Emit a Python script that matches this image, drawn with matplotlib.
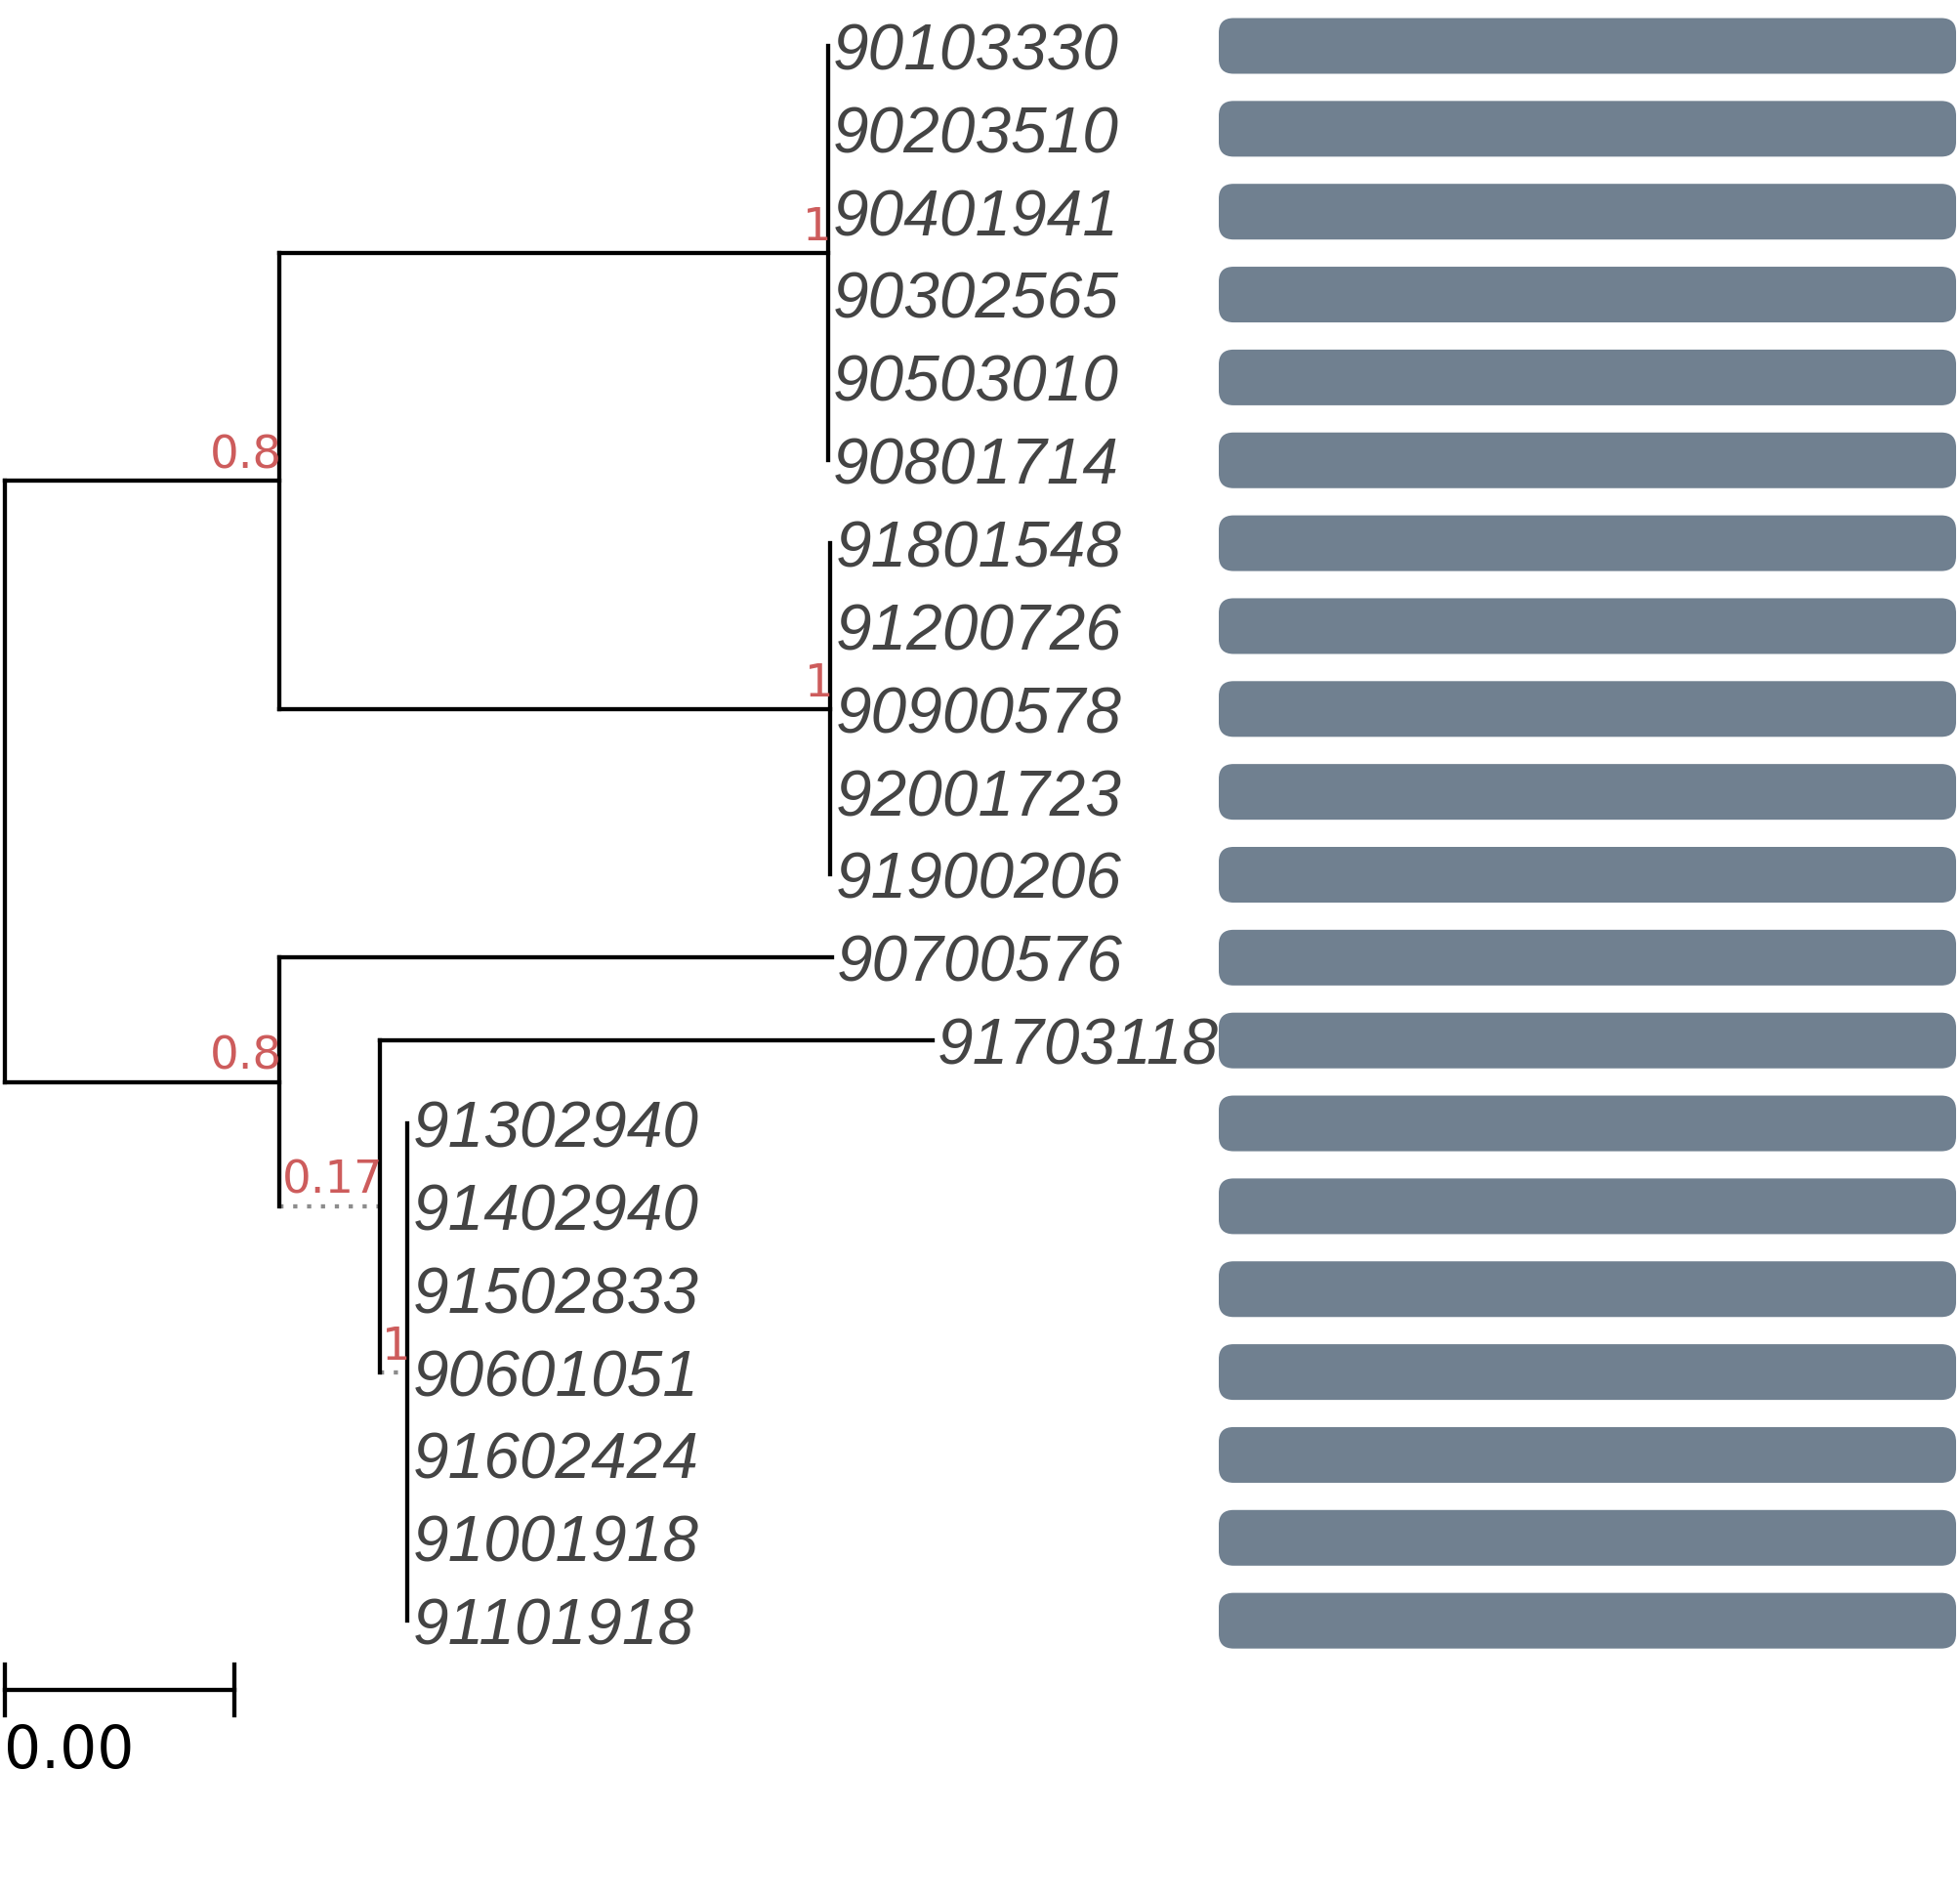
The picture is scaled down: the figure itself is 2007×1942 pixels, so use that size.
import matplotlib
matplotlib.use("Agg")
import matplotlib.pyplot as plt
from matplotlib.patches import FancyBboxPatch
import numpy as np

plt.rcParams['font.family'] = ['DejaVu Sans']

# tip order, top to bottom
tip_labels = ["90103330", "90203510", "90401941", "90302565", "90503010", "90801714",
              "91801548", "91200726", "90900578", "92001723", "91900206",
              "90700576", "91703118",
              "91302940", "91402940", "91502833", "90601051", "91602424", "91001918", "91101918"]

# internal edges (parent -> child, branch length)
edge_parent = ["root", "root", "A", "A", "B", "B", "C", "C"]
edge_child = ["A", "B", "c1", "c2", "90700576", "C", "91703118", "D"]
edge_length = [0.00239, 0.00239, 0.00478, 0.00480, 0.00481, 0.00088, 0.00481, 0.00024]
dotted_edges = ["C", "D"]

# clades of zero-length tips
clade_tips = {
    "c1": tip_labels[0:6],
    "c2": tip_labels[6:11],
    "D": tip_labels[13:20],
}

support_nodes = ["A", "B", "c1", "c2", "C", "D"]
support_values = [0.8, 0.8, 1, 1, 0.17, 1]

bar_values = [1] * len(tip_labels)
scale_width = 0.002

# build the tree
children = {}
blen = {}
for p, c, l in zip(edge_parent, edge_child, edge_length):
    children.setdefault(p, []).append(c)
    blen[c] = l
for node, tips in clade_tips.items():
    for t in tips:
        children.setdefault(node, []).append(t)
        blen[t] = 0.0

xpos = {"root": 0.0}
ypos = {}


def walk(node):
    for c in children.get(node, []):
        xpos[c] = xpos[node] + blen[c]
        walk(c)
    if node in tip_labels:
        ypos[node] = tip_labels.index(node)
    else:
        ypos[node] = np.mean([ypos[c] for c in children[node]])


walk("root")

fig = plt.figure(figsize=(20.07, 19.42), dpi=100)
ax = fig.add_axes([0, 0, 1, 1])
px_per_unit = 117650
ax.set_xlim(-4.5 / px_per_unit, (2007 - 4.5) / px_per_unit)
ax.set_ylim((1942 - 47) / 84.85, -47 / 84.85)
ax.axis("off")

lw = 3.1
# horizontal edges
for c, l in blen.items():
    if l == 0:
        continue
    p = [k for k, v in children.items() if c in v][0]
    if c in dotted_edges:
        ax.plot([xpos[p], xpos[c]], [ypos[c], ypos[c]], color="#8c8c8c", lw=lw,
                linestyle=(0, (1, 2.3)), dash_capstyle="butt")
    else:
        ax.plot([xpos[p], xpos[c]], [ypos[c], ypos[c]], color="black", lw=lw,
                solid_capstyle="projecting")
# vertical connectors
for node, ch in children.items():
    ys = [ypos[c] for c in ch]
    ax.plot([xpos[node], xpos[node]], [min(ys), max(ys)], color="black", lw=lw,
            solid_capstyle="projecting")

# tip labels
for t in tip_labels:
    ax.annotate(t, xy=(xpos[t], ypos[t]), xytext=(3.5, -17.6), textcoords="offset points",
                ha="left", va="baseline", fontsize=47.3, fontstyle="italic",
                family=["Liberation Sans", "DejaVu Sans"], color="#444444")

# support values
for n, s in zip(support_nodes, support_values):
    ax.annotate(f"{s:g}", xy=(xpos[n], ypos[n]), xytext=(2.5, 9.4), textcoords="offset points",
                ha="right", va="baseline", fontsize=33.5, color="#cd5c5c")

# scale bar
scale_y = 19.835
ax.plot([0, scale_width], [scale_y, scale_y], color="black", lw=lw)
for sx in [0, scale_width]:
    ax.plot([sx, sx], [scale_y - 0.306, scale_y + 0.306], color="black", lw=lw)
ax.annotate(f"{scale_width:.2f}", xy=(0, scale_y), xytext=(0, -57.6), textcoords="offset points",
            ha="left", va="baseline", fontsize=43, color="black")

# bar panel
bx = fig.add_axes([1248 / 2007, 0, (2003 - 1248) / 2007, 1])
bx.set_xlim(0, 1)
bx.set_ylim(ax.get_ylim())
bx.axis("off")
bar_h = 0.672
for i, v in enumerate(bar_values):
    bx.add_patch(FancyBboxPatch((0, i - bar_h / 2), v, bar_h,
                                boxstyle="round,pad=0,rounding_size=0.02",
                                mutation_aspect=8.84, facecolor="#708090", edgecolor="none"))

fig.savefig("out.png", dpi=100)
